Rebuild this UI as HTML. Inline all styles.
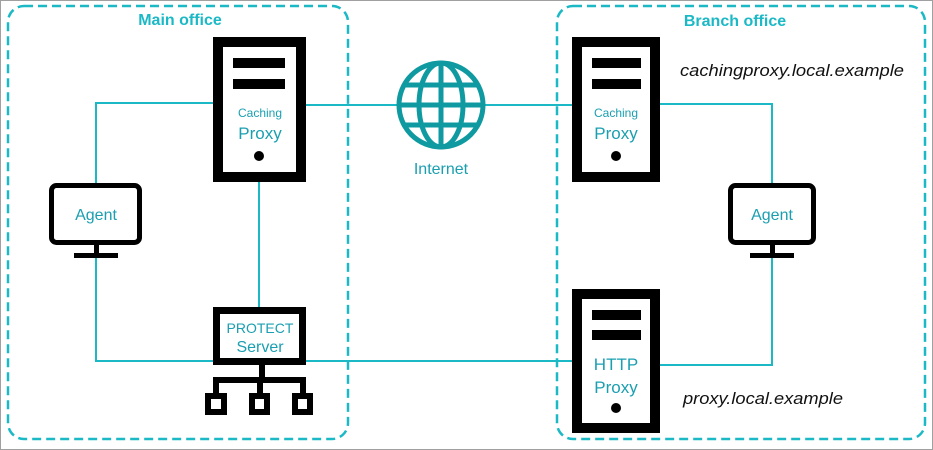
<!DOCTYPE html>
<html><head><style>
html,body{margin:0;padding:0;background:#fff}
svg{display:block}
text{font-family:"Liberation Sans",sans-serif}
</style></head><body>
<svg width="933" height="450" viewBox="0 0 933 450" xmlns="http://www.w3.org/2000/svg">
<rect x="0.5" y="0.5" width="932" height="449" fill="#fff" stroke="#a0a0a0"/>
<g fill="none" stroke="#1bb9c6" stroke-width="2.5" stroke-dasharray="9 5">
<rect x="8" y="6" width="340" height="433" rx="16"/>
<rect x="557" y="6" width="368" height="433" rx="16"/>
</g>
<text x="180" y="25" font-size="16" font-weight="bold" fill="#1bb9c6" text-anchor="middle">Main office</text>
<text x="735" y="26" font-size="16" font-weight="bold" fill="#1bb9c6" text-anchor="middle">Branch office</text>
<g fill="none" stroke="#1bb9c6" stroke-width="2">
<polyline points="213,103 96,103 96,184"/>
<polyline points="96,258 96,361 213,361"/>
<line x1="259" y1="182" x2="259" y2="307"/>
<line x1="306" y1="105" x2="573" y2="105"/>
<line x1="306" y1="361" x2="573" y2="361"/>
<polyline points="660,104 772,104 772,184"/>
<polyline points="772,258 772,365 660,365"/>
</g>
<g fill="none" stroke="#0e9aa0" stroke-width="5">
<circle cx="441" cy="105" r="42" fill="#fff"/>
<ellipse cx="441" cy="105" rx="22" ry="42"/>
<line x1="441" y1="63" x2="441" y2="147"/>
<line x1="399" y1="105" x2="483" y2="105"/>
<line x1="405" y1="85" x2="477" y2="85"/>
<line x1="405" y1="125" x2="477" y2="125"/>
</g>
<text x="441" y="174" font-size="16" fill="#1a9fb0" text-anchor="middle">Internet</text>
<rect x="218" y="42" width="83" height="135" fill="#fff" stroke="#000" stroke-width="10"/>
<rect x="233" y="58" width="52" height="10" fill="#000"/>
<rect x="233" y="79" width="52" height="10" fill="#000"/>
<text x="260" y="117" font-size="12" fill="#1a9fb0" text-anchor="middle">Caching</text>
<text x="260" y="139" font-size="17" fill="#1a9fb0" text-anchor="middle">Proxy</text>
<circle cx="259" cy="156" r="5" fill="#000"/>
<rect x="577" y="42" width="78" height="135" fill="#fff" stroke="#000" stroke-width="10"/>
<rect x="592" y="58" width="49" height="10" fill="#000"/>
<rect x="592" y="79" width="49" height="10" fill="#000"/>
<text x="616" y="117" font-size="12" fill="#1a9fb0" text-anchor="middle">Caching</text>
<text x="616" y="139" font-size="17" fill="#1a9fb0" text-anchor="middle">Proxy</text>
<circle cx="616" cy="156" r="5" fill="#000"/>
<rect x="577" y="294" width="78" height="134" fill="#fff" stroke="#000" stroke-width="10"/>
<rect x="592" y="310" width="49" height="10" fill="#000"/>
<rect x="592" y="330" width="49" height="10" fill="#000"/>
<text x="616" y="370" font-size="17" fill="#1a9fb0" text-anchor="middle">HTTP</text>
<text x="616" y="393" font-size="17" fill="#1a9fb0" text-anchor="middle">Proxy</text>
<circle cx="616" cy="408" r="5" fill="#000"/>
<g fill="#fff" stroke="#000" stroke-width="5">
<rect x="51.5" y="185.5" width="88" height="57" rx="5"/>
<rect x="730.5" y="185.5" width="83" height="57" rx="5"/>
</g>
<rect x="94" y="244" width="5" height="10" fill="#000"/>
<rect x="74" y="253" width="44" height="5" fill="#000"/>
<rect x="770" y="244" width="5" height="10" fill="#000"/>
<rect x="750" y="253" width="44" height="5" fill="#000"/>
<text x="96" y="220" font-size="16" fill="#1a9fb0" text-anchor="middle">Agent</text>
<text x="772" y="220" font-size="16" fill="#1a9fb0" text-anchor="middle">Agent</text>
<rect x="216.5" y="310.5" width="86" height="51" fill="#fff" stroke="#000" stroke-width="7"/>
<text x="260" y="333" font-size="14" fill="#1a9fb0" text-anchor="middle">PROTECT</text>
<text x="260" y="352" font-size="16" fill="#1a9fb0" text-anchor="middle">Server</text>
<g fill="#000">
<rect x="259" y="365" width="6" height="17"/>
<rect x="213" y="377" width="93" height="6"/>
<rect x="213" y="377" width="6" height="18"/>
<rect x="257" y="377" width="6" height="18"/>
<rect x="300" y="377" width="6" height="18"/>
</g>
<g fill="#fff" stroke="#000" stroke-width="6">
<rect x="208" y="396" width="16" height="16"/>
<rect x="252" y="396" width="15" height="16"/>
<rect x="295" y="396" width="15" height="16"/>
</g>
<text x="680" y="76" font-size="17" font-style="italic" fill="#111" textLength="224" lengthAdjust="spacingAndGlyphs">cachingproxy.local.example</text>
<text x="683" y="404" font-size="17" font-style="italic" fill="#111" textLength="160" lengthAdjust="spacingAndGlyphs">proxy.local.example</text>
</svg>
</body></html>
